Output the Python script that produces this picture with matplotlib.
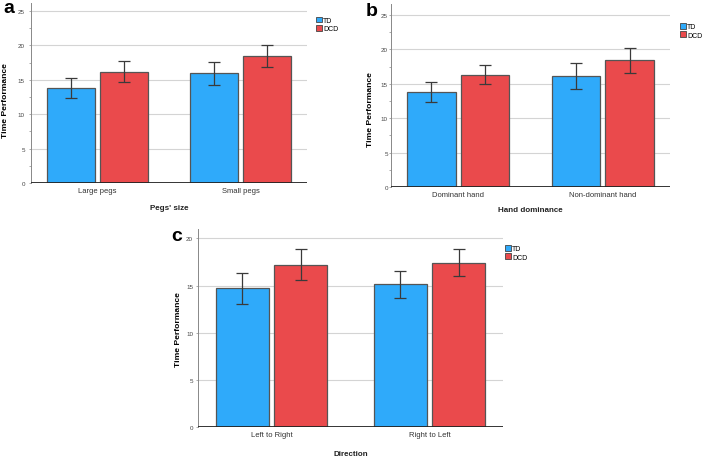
import matplotlib.pyplot as plt
from matplotlib.ticker import MultipleLocator

plt.rcParams['font.family'] = ['Liberation Sans', 'DejaVu Sans']

W, H = 702, 460

groups = ['TD', 'DCD']
colors = ['#2faafa', '#ea4a4c']

cats_a = ['Large pegs', 'Small pegs']
td_a = [13.8, 16.0]
td_a_err = [(12.4, 15.3), (14.3, 17.6)]
dcd_a = [16.2, 18.5]
dcd_a_err = [(14.7, 17.7), (16.8, 20.1)]

cats_b = ['Dominant hand', 'Non-dominant hand']
td_b = [13.8, 16.1]
td_b_err = [(12.4, 15.2), (14.3, 18.0)]
dcd_b = [16.3, 18.4]
dcd_b_err = [(14.9, 17.7), (16.6, 20.2)]

cats_c = ['Left to Right', 'Right to Left']
td_c = [14.7, 15.2]
td_c_err = [(13.1, 16.3), (13.7, 16.6)]
dcd_c = [17.2, 17.4]
dcd_c_err = [(15.6, 18.9), (16.0, 18.9)]


def px_axes(fig, x0, x1, y_top, y_bot):
    # pixel box -> figure fraction
    return fig.add_axes([x0 / W, 1 - y_bot / H, (x1 - x0) / W, (y_bot - y_top) / H])


def draw_panel(fig, box, cats, td, td_err, dcd, dcd_err, ytop, yticks, minor,
               xlabel, letter, letter_xy, ylabel_xy, xlabel_y, legend_xy, fs, ypad):
    ax = px_axes(fig, *box)
    width = 0.333
    off = 0.185
    xs = range(len(cats))
    for vals, errs, sign, col in [(td, td_err, -1, colors[0]), (dcd, dcd_err, 1, colors[1])]:
        pos = [x + sign * off for x in xs]
        ax.bar(pos, vals, width=width, color=col, edgecolor='#555555', linewidth=0.9,
               zorder=3)
        lo = [v - e[0] for v, e in zip(vals, errs)]
        hi = [e[1] - v for v, e in zip(vals, errs)]
        ax.errorbar(pos, vals, yerr=[lo, hi], fmt='none', ecolor='#3a3a3a',
                    elinewidth=0.9, capsize=4.5, capthick=0.9, zorder=4)
    ax.set_xlim(-0.465, 1.465)
    ax.set_ylim(0, ytop)
    ax.set_yticks(yticks)
    ax.set_yticklabels([str(t) for t in yticks])
    if minor:
        ax.yaxis.set_minor_locator(MultipleLocator(2.5))
    ax.grid(axis='y', color='#d4d4d4', linewidth=0.8, zorder=0)
    ax.axhline(0, color='#222222', linewidth=2.0, zorder=5)
    for s in ['top', 'right', 'bottom']:
        ax.spines[s].set_visible(False)
    ax.spines['left'].set_color('#888888')
    ax.spines['left'].set_linewidth(0.7)
    ax.tick_params(axis='y', labelsize=4.5, labelcolor='#444444', length=1.5,
                   width=0.5, color='#888888', pad=ypad)
    ax.tick_params(axis='y', which='minor', length=1.2, width=0.5, color='#888888')
    ax.set_xticks(list(xs))
    ax.set_xticklabels(cats, fontsize=fs, color='#333333')
    ax.tick_params(axis='x', length=0, pad=3)

    fig.text(ylabel_xy[0] / W, 1 - ylabel_xy[1] / H, 'Time Performance',
             rotation=90, ha='center', va='center', fontsize=fs + 0.6,
             fontweight='bold')
    fig.text((box[0] + box[1]) / 2 / W, 1 - xlabel_y / H, xlabel, ha='center',
             va='center', fontsize=fs + 0.3, fontweight='bold', color='#222222')
    fig.text(letter_xy[0] / W, 1 - letter_xy[1] / H, letter, ha='left', va='center',
             fontsize=14, fontweight='bold')
    handles = [plt.Rectangle((0, 0), 1, 1, facecolor=c, edgecolor='#444444',
                             linewidth=0.6) for c in colors]
    fig.legend(handles, groups, loc='upper left',
               bbox_to_anchor=(legend_xy[0] / W, 1 - legend_xy[1] / H),
               frameon=False, fontsize=5, handlelength=0.9, handleheight=0.9,
               handletextpad=0.15, labelspacing=0.15, borderpad=0, borderaxespad=0)
    return ax


fig = plt.figure(figsize=(W / 100, H / 100), dpi=100)

draw_panel(fig, (31, 307, 3.7, 184), cats_a, td_a, td_a_err, dcd_a, dcd_a_err,
           26.2, [0, 5, 10, 15, 20, 25], True, "Pegs' size", 'a', (3, 8.5), (6, 101),
           208, (316, 17.5), 5.5, 3)
draw_panel(fig, (391, 670, 5, 188), cats_b, td_b, td_b_err, dcd_b, dcd_b_err,
           26.6, [0, 5, 10, 15, 20, 25], True, 'Hand dominance', 'b', (366, 11),
           (371, 110), 211, (680, 24), 5.5, 0.8)
draw_panel(fig, (198, 503, 230, 428.3), cats_c, td_c, td_c_err, dcd_c, dcd_c_err,
           21, [0, 5, 10, 15, 20], False, 'Direction', 'c', (171, 237), (178, 330),
           455, (505, 246), 5.5, 2)

fig.savefig('out.png', dpi=100)
